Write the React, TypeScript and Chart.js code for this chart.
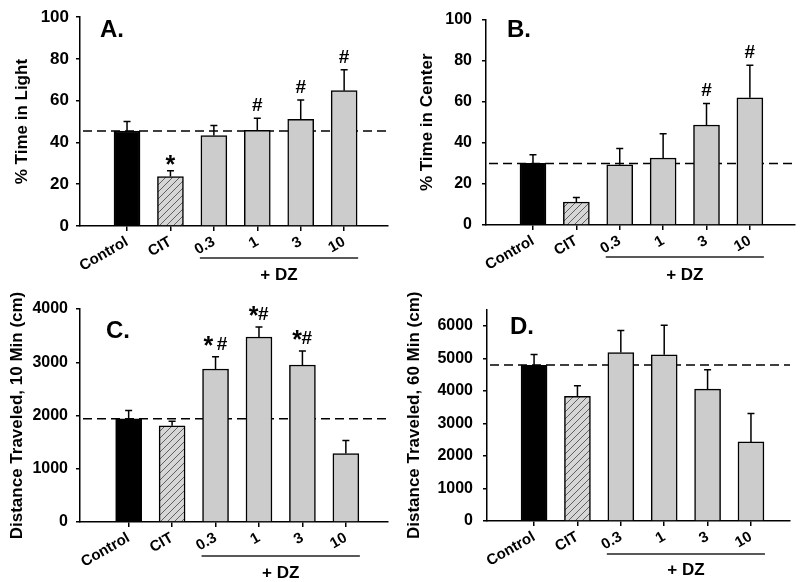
import React, { useEffect, useRef } from 'react';
import { Chart, registerables } from 'chart.js';
Chart.register(...registerables);

const FONT = "'Liberation Sans', Arial, sans-serif";

const categories = ['Control', 'CIT', '0.3', '1', '3', '10'];

const lightMean = [45.5, 23.7, 43.3, 45.8, 51.1, 64.8];
const lightErr = [4.6, 2.8, 4.8, 5.8, 9.2, 10.0];
const lightMarks = ['', '*', '', '#', '#', '#'];

const centerMean = [30.0, 11.2, 29.3, 32.6, 48.7, 61.9];
const centerErr = [4.2, 2.2, 8.0, 11.8, 10.5, 15.9];
const centerMarks = ['', '', '', '', '#', '#'];

const dist10Mean = [1937, 1806, 2874, 3474, 2949, 1286];
const dist10Err = [156, 88, 231, 188, 263, 244];
const dist10Marks = ['', '', '* #', '*#', '*#', ''];

const dist60Mean = [4786, 3831, 5181, 5108, 4056, 2432];
const dist60Err = [334, 325, 678, 912, 596, 873];
const dist60Marks = ['', '', '', '', '', ''];

const yTicksLight = [0, 20, 40, 60, 80, 100];
const yTicksCenter = [0, 20, 40, 60, 80, 100];
const yTicksDist10 = [0, 1000, 2000, 3000, 4000];
const yTicksDist60 = [0, 1000, 2000, 3000, 4000, 5000, 6000];

type Panel = {
  label: string;
  title: string;
  means: number[];
  errs: number[];
  marks: string[];
  ref: number;
  yMax: number;
  yTicks: number[];
  pos: { left: number; top: number; w: number; h: number };
  area: { left: number; right: number; top: number; bottom: number };
  xMin: number;
  xMax: number;
  titlePad: number;
  tickPad: number;
  tickFont: number;
  labelDx: number;
  labelCy: number;
  bracketDy: number;
  textDy: number;
};

const panels: Panel[] = [
  {
    label: 'A.', title: '% Time in Light', means: lightMean, errs: lightErr, marks: lightMarks,
    ref: lightMean[0], yMax: 100, yTicks: yTicksLight,
    pos: { left: 0, top: 0, w: 400, h: 290 },
    area: { left: 80, right: 388, top: 12, bottom: 226 },
    xMin: -1.083, xMax: 6.01, titlePad: 12, tickPad: 7, tickFont: 17,
    labelDx: 20, labelCy: 30, bracketDy: 32, textDy: 49,
  },
  {
    label: 'B.', title: '% Time in Center', means: centerMean, errs: centerErr, marks: centerMarks,
    ref: centerMean[0], yMax: 100, yTicks: yTicksCenter,
    pos: { left: 400, top: 0, w: 400, h: 290 },
    area: { left: 86, right: 395, top: 12, bottom: 225 },
    xMin: -1.083, xMax: 6.04, titlePad: 17, tickPad: 10, tickFont: 16,
    labelDx: 21, labelCy: 30, bracketDy: 32, textDy: 50,
  },
  {
    label: 'C.', title: 'Distance Traveled, 10 Min (cm)', means: dist10Mean, errs: dist10Err, marks: dist10Marks,
    ref: dist10Mean[0], yMax: 4000, yTicks: yTicksDist10,
    pos: { left: 0, top: 290, w: 400, h: 292 },
    area: { left: 80, right: 388, top: 19, bottom: 232 },
    xMin: -1.12, xMax: 5.97, titlePad: 7, tickPad: 8, tickFont: 16,
    labelDx: 26, labelCy: 41, bracketDy: 34, textDy: 51,
  },
  {
    label: 'D.', title: 'Distance Traveled, 60 Min (cm)', means: dist60Mean, errs: dist60Err, marks: dist60Marks,
    ref: 4800, yMax: 6500, yTicks: yTicksDist60,
    pos: { left: 400, top: 290, w: 400, h: 292 },
    area: { left: 87, right: 390, top: 17, bottom: 231 },
    xMin: -1.085, xMax: 5.9, titlePad: 4, tickPad: 10, tickFont: 16,
    labelDx: 23, labelCy: 37, bracketDy: 33, textDy: 49,
  },
];

function makeHatch(): CanvasPattern | string {
  const c = document.createElement('canvas');
  const s = 7;
  c.width = s;
  c.height = s;
  const g = c.getContext('2d');
  if (!g) return '#d4d4d4';
  g.fillStyle = '#d6d6d6';
  g.fillRect(0, 0, s, s);
  g.strokeStyle = '#606060';
  g.lineWidth = 1;
  g.beginPath();
  g.moveTo(0, s); g.lineTo(s, 0);
  g.moveTo(-s / 2, s / 2); g.lineTo(s / 2, -s / 2);
  g.moveTo(s / 2, s + s / 2); g.lineTo(s + s / 2, s / 2);
  g.stroke();
  const p = g.createPattern(c, 'repeat');
  return p || '#d4d4d4';
}

const HASH_FONT = `bold 19px ${FONT}`;
const STAR_FONT = `bold 25px ${FONT}`;

function drawMark(ctx: CanvasRenderingContext2D, m: string, cx: number, et: number) {
  const chars = m.split('');
  const widths = chars.map((ch) => {
    ctx.font = ch === '*' ? STAR_FONT : HASH_FONT;
    return ch === ' ' ? 4 : ctx.measureText(ch).width * (ch === '*' ? 0.9 : 1);
  });
  const total = widths.reduce((a, b) => a + b, 0);
  let x = cx - total / 2;
  const lone = m === '*';
  const base = et - 7;
  ctx.textAlign = 'left';
  ctx.textBaseline = 'alphabetic';
  chars.forEach((ch, i) => {
    if (ch === '*') {
      ctx.font = STAR_FONT;
      const w = ctx.measureText(ch).width;
      ctx.fillText(ch, x + (widths[i] - w) / 2, lone ? et + 2 : base + 4);
    } else if (ch !== ' ') {
      ctx.font = HASH_FONT;
      ctx.fillText(ch, x, base);
    }
    x += widths[i];
  });
}

function PanelChart({ p }: { p: Panel }) {
  const ref = useRef<HTMLCanvasElement | null>(null);
  useEffect(() => {
    if (!ref.current) return;
    const hatch = makeHatch();
    const deco = {
      id: 'deco',
      beforeDatasetsDraw(chart: any) {
        const { ctx, chartArea, scales } = chart;
        const y = scales.y.getPixelForValue(p.ref);
        ctx.save();
        ctx.setLineDash([9, 5]);
        ctx.lineWidth = 1.5;
        ctx.strokeStyle = '#000';
        ctx.beginPath();
        ctx.moveTo(chartArea.left + 3, y);
        ctx.lineTo(chartArea.right, y);
        ctx.stroke();
        ctx.restore();
      },
      afterDatasetsDraw(chart: any) {
        const { ctx, chartArea, scales } = chart;
        const meta = chart.getDatasetMeta(0);
        ctx.save();
        ctx.strokeStyle = '#000';
        ctx.fillStyle = '#000';
        ctx.lineWidth = 1.5;
        meta.data.forEach((el: any, i: number) => {
          const x = el.x;
          const top = el.y;
          const et = scales.y.getPixelForValue(p.means[i] + p.errs[i]);
          ctx.beginPath();
          ctx.moveTo(x, top);
          ctx.lineTo(x, et);
          ctx.moveTo(x - 3.5, et);
          ctx.lineTo(x + 3.5, et);
          ctx.stroke();
          const m = p.marks[i];
          if (m) drawMark(ctx, m, x, et);
        });
        const e2: any = meta.data[2];
        const e5: any = meta.data[5];
        const bx1 = e2.x - e2.width / 2 - 1;
        const bx2 = e5.x + e5.width / 2 + 1;
        const by = chartArea.bottom + p.bracketDy;
        ctx.lineWidth = 1.5;
        ctx.strokeStyle = '#222';
        ctx.beginPath();
        ctx.moveTo(bx1, by);
        ctx.lineTo(bx2, by);
        ctx.stroke();
        ctx.font = `bold 17px ${FONT}`;
        ctx.textAlign = 'center';
        ctx.textBaseline = 'middle';
        ctx.fillText('+ DZ', (bx1 + bx2) / 2, chartArea.bottom + p.textDy);
        ctx.font = `bold 24px ${FONT}`;
        ctx.textAlign = 'left';
        ctx.textBaseline = 'middle';
        ctx.fillText(p.label, chartArea.left + p.labelDx, p.labelCy);
        ctx.restore();
      },
    };
    const chart = new Chart(ref.current, {
      type: 'bar',
      data: {
        datasets: [
          {
            data: p.means.map((v, i) => ({ x: i, y: v })),
            backgroundColor: ['#000000', hatch as any, '#cccccc', '#cccccc', '#cccccc', '#cccccc'],
            borderColor: '#000',
            borderWidth: 1.5,
            barThickness: 26,
          } as any,
        ],
      },
      options: {
        responsive: false,
        animation: false,
        devicePixelRatio: 1,
        layout: {
          padding: { left: 0, top: p.area.top, right: p.pos.w - p.area.right, bottom: 0 },
        },
        plugins: { legend: { display: false }, tooltip: { enabled: false } },
        scales: {
          x: {
            type: 'linear',
            min: p.xMin,
            max: p.xMax,
            offset: false,
            afterBuildTicks: (s: any) => {
              s.ticks = categories.map((_, i) => ({ value: i }));
            },
            afterFit: (s: any) => {
              s.height = p.pos.h - p.area.bottom;
            },
            ticks: {
              autoSkip: false,
              maxRotation: 30,
              minRotation: 30,
              padding: 2,
              color: '#000',
              font: { family: FONT, size: 15, weight: 'bold' },
              callback: (v: any) => categories[v as number] ?? '',
            },
            grid: {
              display: true,
              offset: false,
              drawOnChartArea: false,
              drawTicks: true,
              tickLength: 5,
              color: '#000',
              lineWidth: 1.5,
            },
            border: { display: true, color: '#000', width: 1.5 },
          } as any,
          y: {
            type: 'linear',
            min: 0,
            max: p.yMax,
            afterBuildTicks: (s: any) => {
              s.ticks = p.yTicks.map((v) => ({ value: v }));
            },
            afterFit: (s: any) => {
              s.width = p.area.left;
            },
            ticks: {
              padding: p.tickPad,
              color: '#000',
              font: { family: FONT, size: p.tickFont, weight: 'bold' },
              callback: (v: any) => String(v),
            },
            grid: {
              display: true,
              drawOnChartArea: false,
              drawTicks: true,
              tickLength: 4,
              color: '#000',
              lineWidth: 1.5,
            },
            border: { display: true, color: '#000', width: 1.5 },
            title: {
              display: true,
              text: p.title,
              color: '#000',
              font: { family: FONT, size: 17, weight: 'bold' },
              padding: { top: p.titlePad, bottom: 0 },
            },
          } as any,
        },
      },
      plugins: [deco],
    });
    return () => chart.destroy();
  }, [p]);
  return (
    <canvas
      ref={ref}
      width={p.pos.w}
      height={p.pos.h}
      style={{ position: 'absolute', left: p.pos.left, top: p.pos.top, width: p.pos.w, height: p.pos.h }}
    />
  );
}

export default function App() {
  return (
    <div style={{ position: 'absolute', left: 0, top: 0, width: 800, height: 582, background: '#fff' }}>
      {panels.map((p) => (
        <PanelChart key={p.label} p={p} />
      ))}
    </div>
  );
}
